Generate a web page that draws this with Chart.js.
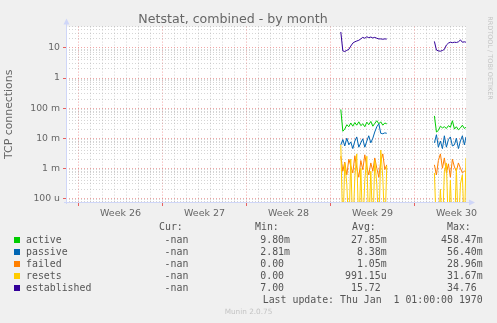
<!DOCTYPE html>
<html><head><meta charset="utf-8">
<script src="https://cdn.jsdelivr.net/npm/chart.js@4/dist/chart.umd.min.js"></script>
<style>html,body{margin:0;padding:0;background:#F0F0F0;}#wrap{width:497px;height:323px;}</style>
</head><body><div id="wrap"><canvas id="c" width="497" height="323"></canvas></div>
<script>
// ---------- data ----------
const chartTitle = 'Netstat, combined - by month';
const yAxisTitle = 'TCP connections';
// sample times, in days since the start of week 26 (null-valued point = gap)
const sampleDays = [21.85, 22.02, 22.18, 22.35, 22.52, 22.68, 22.85, 23.02, 23.18, 23.35, 23.52, 23.68,
  23.85, 24.02, 24.18, 24.35, 24.52, 24.68, 24.85, 25.02, 25.18, 25.35, 25.52, 25.68,
  27.60,
  29.65, 29.82, 29.98, 30.15, 30.32, 30.48, 30.65, 30.82, 30.98, 31.15, 31.32, 31.48, 31.65, 31.82, 31.98, 32.15, 32.28];
const active = [0.090, 0.017, 0.020, 0.028, 0.024, 0.032, 0.025, 0.033, 0.027, 0.035, 0.026, 0.030,
  0.024, 0.034, 0.028, 0.036, 0.025, 0.031, 0.038, 0.030, 0.035, 0.027, 0.032, 0.030,
  null,
  0.055, 0.016, 0.018, 0.025, 0.022, 0.024, 0.021, 0.026, 0.023, 0.038, 0.020, 0.024, 0.019, 0.022, 0.027, 0.021, 0.023];
const passive = [0.0060, 0.0090, 0.0055, 0.0100, 0.0060, 0.0075, 0.0045, 0.0080, 0.0110, 0.0050, 0.0070, 0.0095,
  0.0050, 0.0080, 0.0120, 0.0070, 0.0100, 0.0160, 0.0240, 0.0300, 0.0145, 0.0140, 0.0150, 0.0145,
  null,
  0.0070, 0.0130, 0.0050, 0.0080, 0.0045, 0.0120, 0.0050, 0.0090, 0.0110, 0.0055, 0.0060, 0.0100, 0.0045, 0.0080, 0.0120, 0.0060, 0.0110];
const failed = [0.0025, 0.0008, 0.0016, 0.0006, 0.0020, 0.0012, 0.0007, 0.0026, 0.0010, 0.0005, 0.0018, 0.0009,
  0.0028, 0.0011, 0.0006, 0.0015, 0.0008, 0.0022, 0.0010, 0.0005, 0.0017, 0.0030, 0.0009, 0.0013,
  null,
  0.0013, 0.0006, 0.0018, 0.0030, 0.0010, 0.0022, 0.0007, 0.0014, 0.0005, 0.0020, 0.0011, 0.0008, 0.0015, 0.0010, 0.0007, 0.0008, 0.00075];
const resets = [0.0060, 0, 0.0015, 0.0003, 0, 0.0020, 0, 0.0005, 0.0030, 0, 0.0010, 0,
  0.0004, 0.0025, 0, 0.0008, 0, 0.0018, 0.0003, 0, 0.0040, 0.0005, 0, 0.0012,
  null,
  0.0007, 0, 0, 0.0002, 0, 0.0008, 0.0015, 0, 0.0004, 0, 0, 0.0010, 0, 0.0003, 0.0006, 0, 0.0022];
const established = [34, 8.0, 7.6, 8.3, 9.0, 11.5, 14.5, 16, 17, 18, 20, 22.5,
  21, 23.5, 22, 23, 21.5, 22.5, 21, 20, 20, 19.5, 20, 19.8,
  null,
  16.5, 8.5, 8.0, 7.8, 8.2, 9.0, 12.5, 14.5, 15.5, 15, 15.5, 15.2, 16, 18.5, 15.5, 16, 15.5];

const seriesNames = ['active', 'passive', 'failed', 'resets', 'established'];
const curValues = ['-nan', '-nan', '-nan', '-nan', '-nan'];
const minValues = ['9.80m', '2.81m', '0.00', '0.00', '7.00'];
const avgValues = ['27.85m', '8.38m', '1.05m', '991.15u', '15.72'];
const maxValues = ['458.47m', '56.40m', '28.96m', '31.67m', '34.76'];
const statHeaders = ['Cur:', 'Min:', 'Avg:', 'Max:'];
const lastUpdate = 'Last update: Thu Jan  1 01:00:00 1970';
const footer = 'Munin 2.0.75';
const watermark = 'RRDTOOL / TOBI OETIKER';

const weekLabels = ['Week 26', 'Week 27', 'Week 28', 'Week 29', 'Week 30'];
const weekStarts = [0, 7, 14, 21, 28];
const yDecades = [1e-4, 1e-3, 1e-2, 1e-1, 1, 10];
const yTickLabels = ['100 u', '1 m', '10 m', '100 m', '1', '10'];

// ---------- style ----------
const colors = ['#00CC00', '#0066B3', '#FF8000', '#FFCC00', '#330099'];
const xMin = -1.05, xMax = -1.05 + 400 / 12;
const yMin = 7.53e-5, yMax = 51.3;
const GRID = 'rgba(150,150,150,0.4)';
const MGRID = 'rgba(230,80,80,0.5)';
const AXIS = '#CFD6F8';
const FONT = '#666666';

// zero cannot sit on a log axis: like rrdtool, draw it below the floor (clipped)
const series = [active, passive, failed, resets, established];
const datasets = series.map((vals, i) => ({
  label: seriesNames[i],
  data: sampleDays.map((d, j) => ({x: d, y: vals[j] === 0 ? yMin / 10 : vals[j]})),
  borderColor: colors[i],
  backgroundColor: colors[i],
  borderWidth: 1,
  pointRadius: 0,
  tension: 0,
  spanGaps: false,
  fill: false,
  clip: 0,
  order: 5 - i
}));

const dayTicks = [];
for (let d = Math.ceil(xMin); d <= Math.floor(xMax); d++) dayTicks.push(d);
const weekCenters = weekStarts.map(w => w + 3.5);
const yTicks = [];
for (let e = -5; e <= 1; e++) for (let k = 1; k <= 9; k++) {
  const v = k * Math.pow(10, e);
  if (v >= yMin && v <= yMax) yTicks.push(v);
}
const isWeek = v => weekStarts.includes(v);
const decadeIndex = v => {
  const l = Math.log10(v);
  if (Math.abs(l - Math.round(l)) > 1e-6) return -1;
  return yDecades.findIndex(d => Math.abs(Math.log10(d) - l) < 1e-6);
};

const muninPlugin = {
  id: 'munin',
  beforeDraw(chart) {
    const {ctx, chartArea: a} = chart;
    ctx.save();
    ctx.fillStyle = '#F0F0F0';
    ctx.fillRect(0, 0, chart.width, chart.height);
    ctx.fillStyle = '#FFFFFF';
    ctx.fillRect(a.left, a.top, a.right - a.left, a.bottom - a.top);
    ctx.restore();
  },
  afterDraw(chart) {
    const {ctx, chartArea: a} = chart;
    ctx.save();
    // axes with arrows
    ctx.strokeStyle = AXIS; ctx.fillStyle = AXIS; ctx.lineWidth = 1;
    ctx.beginPath();
    ctx.moveTo(a.left + 0.5, a.bottom + 2); ctx.lineTo(a.left + 0.5, a.top - 3);
    ctx.moveTo(a.left - 2, a.bottom + 0.5); ctx.lineTo(a.right + 4, a.bottom + 0.5);
    ctx.stroke();
    ctx.beginPath();
    ctx.moveTo(a.left + 0.5, a.top - 8); ctx.lineTo(a.left - 2.5, a.top - 2); ctx.lineTo(a.left + 3.5, a.top - 2); ctx.closePath(); ctx.fill();
    ctx.beginPath();
    ctx.moveTo(a.right + 9, a.bottom + 0.5); ctx.lineTo(a.right + 3, a.bottom - 2.5); ctx.lineTo(a.right + 3, a.bottom + 3.5); ctx.closePath(); ctx.fill();

    // legend table
    const mono = '9.9px "DejaVu Sans Mono"';
    const cw = 5.97;
    ctx.font = mono; ctx.textBaseline = 'middle'; ctx.fillStyle = '#555555';
    ctx.textAlign = 'left';
    const hx = [159, 255, 352, 447];
    statHeaders.forEach((h, i) => ctx.fillText(h, hx[i], 227));
    const cols = [194.3, 290, 386.7, 482.7];
    const rightText = (s, x, y) => {
      const unit = /[0-9n]$/.test(s) ? cw : 0;
      ctx.textAlign = 'right';
      ctx.fillText(s, x - unit, y);
    };
    seriesNames.forEach((n, i) => {
      const y = 240 + i * 12;
      ctx.fillStyle = colors[i];
      ctx.fillRect(14, y - 3, 6, 6);
      ctx.fillStyle = '#555555';
      ctx.textAlign = 'left';
      ctx.fillText(n, 26, y);
      rightText(curValues[i], cols[0], y);
      rightText(minValues[i], cols[1], y);
      rightText(avgValues[i], cols[2], y);
      rightText(maxValues[i], cols[3], y);
    });
    ctx.textAlign = 'right';
    ctx.fillText(lastUpdate, 482.7, 300);

    // footer
    ctx.font = '7.3px "DejaVu Sans"';
    ctx.fillStyle = '#C4C4C4';
    ctx.textAlign = 'center';
    ctx.fillText(footer, 248.5, 312);

    // watermark
    ctx.translate(490, 58);
    ctx.rotate(Math.PI / 2);
    ctx.font = '6.5px "DejaVu Sans"';
    ctx.fillStyle = '#C4C4C4';
    ctx.fillText(watermark, 0, 0);
    ctx.restore();
  }
};

new Chart(document.getElementById('c'), {
  type: 'line',
  data: {datasets},
  plugins: [muninPlugin],
  options: {
    responsive: false, animation: false, devicePixelRatio: 1,
    layout: {padding: {left: 0, right: 31, top: 0, bottom: 97}},
    plugins: {
      legend: {display: false}, tooltip: {enabled: false},
      title: {display: true, text: chartTitle, color: FONT,
        font: {family: 'DejaVu Sans', size: 12.6, weight: 'normal', lineHeight: 1},
        padding: {top: 13, bottom: 1}}
    },
    scales: {
      x: {
        type: 'linear', min: xMin, max: xMax, position: 'bottom', weight: 0,
        afterBuildTicks: s => { s.ticks = dayTicks.map(v => ({value: v})); },
        afterFit: s => { s.height = 4; },
        ticks: {display: false},
        grid: {color: c => isWeek(c.tick && c.tick.value) ? MGRID : GRID,
          tickColor: c => isWeek(c.tick && c.tick.value) ? 'rgba(230,60,60,0.8)' : 'rgba(0,0,0,0)',
          tickLength: 4, lineWidth: 1, drawTicks: true, borderDash: [1, 2]},
        border: {display: false, dash: [1, 2]}
      },
      xl: {
        type: 'linear', min: xMin, max: xMax, position: 'bottom', weight: 1,
        afterBuildTicks: s => { s.ticks = weekCenters.map(v => ({value: v})); },
        afterFit: s => { s.height = 20; },
        ticks: {autoSkip: false, maxRotation: 0, padding: 2, color: FONT,
          font: {family: 'DejaVu Sans', size: 9.5},
          callback: (v, i) => weekLabels[i]},
        grid: {display: false, drawTicks: false},
        border: {display: false}
      },
      y: {
        type: 'logarithmic', min: yMin, max: yMax, position: 'left',
        afterBuildTicks: s => { s.ticks = yTicks.map(v => ({value: v})); },
        afterFit: s => { s.width = 66; },
        ticks: {autoSkip: false, padding: 3, color: FONT,
          font: {family: 'DejaVu Sans', size: 9.3},
          callback: v => { const i = decadeIndex(v); return i >= 0 ? yTickLabels[i] : ''; }},
        grid: {color: c => decadeIndex(c.tick ? c.tick.value : 1.5) >= 0 ? MGRID : GRID,
          tickColor: c => decadeIndex(c.tick ? c.tick.value : 1.5) >= 0 ? 'rgba(230,60,60,0.8)' : 'rgba(0,0,0,0)',
          tickLength: 3, lineWidth: 1, drawTicks: true, borderDash: [1, 2]},
        border: {display: false, dash: [1, 2]},
        title: {display: true, text: yAxisTitle, color: FONT,
          font: {family: 'DejaVu Sans', size: 10.9}, padding: {top: 3, bottom: 0}}
      }
    }
  }
});
</script></body></html>
